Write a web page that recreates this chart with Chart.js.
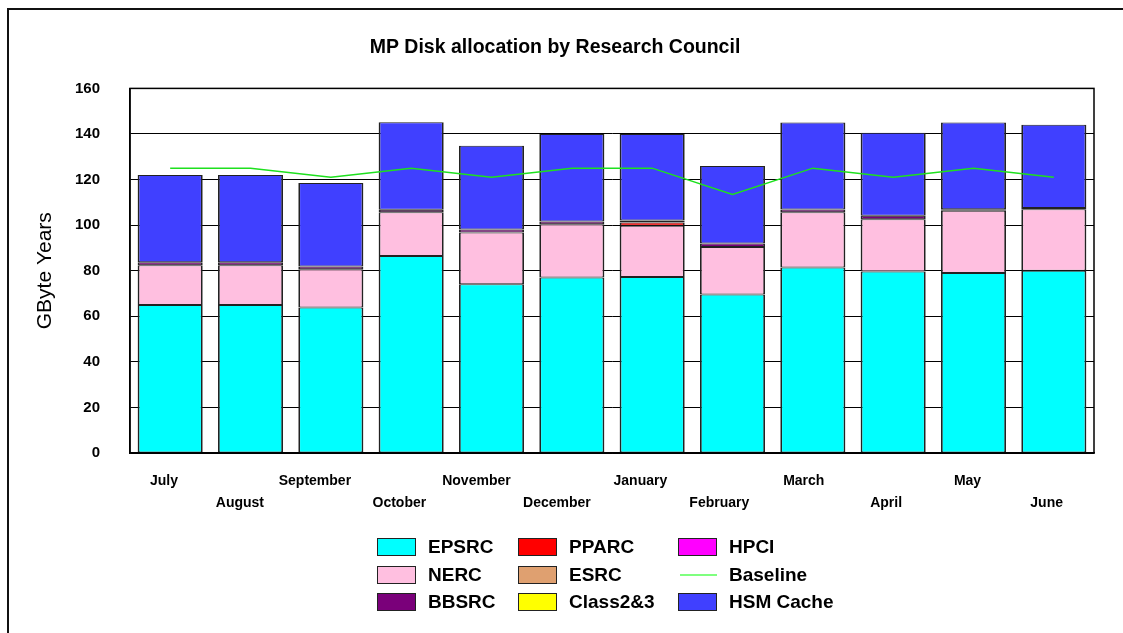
<!DOCTYPE html>
<html>
<head>
<meta charset="utf-8">
<script src="https://cdn.jsdelivr.net/npm/chart.js@4/dist/chart.umd.min.js"></script>
<style>
  html, body { margin: 0; padding: 0; background: #fff; }
  #wrap { position: relative; width: 1123px; height: 633px; }
</style>
</head>
<body>
<div id="wrap"><canvas id="c" width="1123" height="633"></canvas></div>
<script>
  // data (GByte Years)
  const months = ['July', 'August', 'September', 'October', 'November', 'December',
                  'January', 'February', 'March', 'April', 'May', 'June'];
  const epsrc   = [65, 65, 63.8, 86.5, 74, 77, 77.2, 69.6, 81.4, 79.6, 79, 80];
  const nerc    = [17.4, 17.4, 16.8, 19.1, 22.8, 23.4, 22.5, 20.8, 24.2, 23, 27.3, 27];
  const pparc   = [0, 0, 0, 0, 0, 0, 1.5, 0, 0, 0, 0, 0];
  const esrc    = [0, 0, 0, 0, 0, 0, 0, 0, 0, 0, 0, 0];
  const bbsrc   = [1.3, 1.3, 1.2, 1.2, 1.3, 1.2, 0.8, 1.5, 1.3, 1.5, 0.7, 0.5];
  const class23 = [0, 0, 0, 0, 0, 0, 0, 0, 0, 0, 0, 0];
  const hpci    = [0, 0, 0, 0, 0, 0, 0, 0, 0, 0, 0, 0];
  const hsm     = [38.3, 38.3, 36.7, 38.4, 36.7, 38.4, 38, 34.1, 38.1, 36.4, 38, 36.5];
  const baseline = [125, 125, 121, 125, 121, 125, 125, 113.5, 125, 121, 125, 121];

  const yTicks = [0, 20, 40, 60, 80, 100, 120, 140, 160];

  const legendCols = [
    ['EPSRC', 'NERC', 'BBSRC'],
    ['PPARC', 'ESRC', 'Class2&3'],
    ['HPCI', 'Baseline', 'HSM Cache']
  ];

  const FONT = "'Liberation Sans', Arial, sans-serif";

  const SEG_BORDER = { top: 1, bottom: 1, left: 1.8, right: 1.8 };

  function bar(label, data, color) {
    return {
      type: 'bar', label, data,
      backgroundColor: color,
      borderColor: '#222',
      // empty segments get no outline, otherwise they leave a stray line
      borderWidth: c => (c.raw ? SEG_BORDER : 0),
      borderSkipped: false,
      stack: 'alloc',
      order: 1
    };
  }

  // frame around the page, plot box and the legend
  const framePlugin = {
    id: 'frame',
    beforeDraw(chart) {
      const ctx = chart.ctx;
      ctx.save();
      ctx.fillStyle = '#fff';
      ctx.fillRect(0, 0, chart.width, chart.height);
      ctx.strokeStyle = '#111';
      ctx.lineWidth = 2;
      ctx.strokeRect(8, 9, chart.width + 20, chart.height + 20);
      ctx.restore();

      // month labels sit a bit left of the bar centre in the original
      const sx = chart.scales.x;
      const items = sx.getLabelItems();
      ctx.save();
      ctx.font = 'bold 14px ' + FONT;
      items.forEach(it => {
        const txt = [].concat(it.label).join('');
        it.options.translation[0] -= ctx.measureText(txt).width * 0.22;
      });
      ctx.restore();
    },
    afterDatasetsDraw(chart) {
      const { ctx, chartArea: a } = chart;
      ctx.save();
      ctx.strokeStyle = '#000';
      ctx.lineWidth = 1.5;
      ctx.strokeRect(a.left, a.top, a.right - a.left, a.bottom - a.top);
      ctx.restore();
    },
    afterDraw(chart) {
      const ctx = chart.ctx;
      const colX = [377, 518, 678];
      const rowY = [547, 575, 602];
      ctx.save();
      ctx.font = 'bold 19px ' + FONT;
      ctx.textBaseline = 'middle';
      legendCols.forEach((col, ci) => {
        col.forEach((name, ri) => {
          const ds = chart.data.datasets.find(d => d.label === name);
          const x = colX[ci], y = rowY[ri];
          if (ds.type === 'line') {
            ctx.strokeStyle = ds.legendColor;
            ctx.lineWidth = 1.2;
            ctx.beginPath();
            ctx.moveTo(x + 2, y);
            ctx.lineTo(x + 39, y);
            ctx.stroke();
          } else {
            ctx.fillStyle = ds.backgroundColor;
            ctx.fillRect(x, y - 9, 39, 18);
            ctx.strokeStyle = '#222';
            ctx.lineWidth = 1;
            ctx.strokeRect(x + 0.5, y - 8.5, 38, 17);
          }
          ctx.fillStyle = '#000';
          ctx.fillText(name, x + 51, y + 1);
        });
      });
      ctx.restore();
    }
  };

  new Chart(document.getElementById('c'), {
    data: {
      labels: months,
      datasets: [
        {
          type: 'line', label: 'Baseline', data: baseline,
          borderColor: '#1ee01e', legendColor: '#00ff00',
          borderWidth: 1.5, pointRadius: 0, tension: 0,
          stack: 'base', order: 0
        },
        bar('EPSRC', epsrc, '#00ffff'),
        bar('NERC', nerc, '#ffbfe0'),
        bar('PPARC', pparc, '#ff0000'),
        bar('ESRC', esrc, '#dfa070'),
        bar('BBSRC', bbsrc, '#7a007a'),
        bar('Class2&3', class23, '#ffff00'),
        bar('HPCI', hpci, '#ff00ff'),
        bar('HSM Cache', hsm, '#4040ff')
      ]
    },
    plugins: [framePlugin],
    options: {
      responsive: false,
      animation: false,
      layout: { padding: { left: 16, right: 29, top: 0, bottom: 0 } },
      datasets: { bar: { categoryPercentage: 1, barPercentage: 0.81 } },
      plugins: {
        legend: { display: false },
        tooltip: { enabled: false },
        title: {
          display: true,
          text: 'MP Disk allocation by Research Council',
          color: '#000',
          font: { family: FONT, size: 19.5, weight: 'bold' },
          padding: { top: 36, bottom: 29 }
        }
      },
      scales: {
        x: {
          stacked: true,
          grid: { display: false, drawTicks: false },
          border: { display: true, color: '#000', width: 1.5 },
          ticks: {
            color: '#000', maxRotation: 0, autoSkip: false, padding: 17,
            font: { family: FONT, size: 14, weight: 'bold', lineHeight: 1.6 },
            callback: (v, i) => i % 2 === 0 ? [months[i], ''] : ['', months[i]]
          },
          afterFit: s => { s.height = 180; }
        },
        y: {
          stacked: true,
          min: 0, max: 160,
          afterBuildTicks: s => { s.ticks = yTicks.map(v => ({ value: v })); },
          grid: { color: '#000', lineWidth: 1, drawTicks: false },
          border: { display: true, color: '#000', width: 1.5 },
          ticks: {
            color: '#000', padding: 30,
            font: { family: FONT, size: 15, weight: 'bold' }
          },
          title: {
            display: true, text: 'GByte Years', color: '#000',
            font: { family: FONT, size: 21 },
            padding: { top: 17, bottom: 0 }
          },
          afterFit: s => { s.width = 114; }
        }
      }
    }
  });
</script>
</body>
</html>
